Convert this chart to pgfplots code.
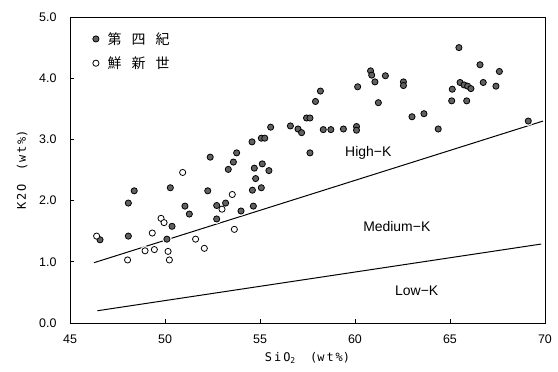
\documentclass[border=0pt]{standalone}
\usepackage{fontspec}
\setmainfont{Liberation Sans}
\newfontfamily\cjk{Noto Sans CJK JP}
\newfontfamily\monof{DejaVu Sans Mono}
\usepackage{pgfplots}
\usepackage{pgfplotstable}
\pgfplotsset{compat=1.18}

\pgfplotstableread{
x y
46.58 1.36
48.07 1.42
48.07 1.96
48.38 2.16
50.28 2.21
50.37 1.58
50.10 1.37
51.05 1.91
51.28 1.78
52.25 2.16
52.38 2.71
52.72 1.92
52.72 1.70
53.19 1.96
53.33 2.51
53.60 2.63
53.77 2.78
54.00 1.83
54.65 1.91
54.60 2.17
55.07 2.21
54.77 2.36
54.70 2.53
55.12 2.60
55.47 2.49
54.58 2.96
55.07 3.02
55.25 3.02
55.56 3.20
56.60 3.22
57.00 3.17
57.19 3.11
57.45 3.35
57.63 3.35
57.63 2.78
57.92 3.62
58.18 3.79
58.33 3.16
58.73 3.16
59.39 3.17
60.08 3.21
60.08 3.15
60.14 3.86
60.82 4.12
60.88 4.05
61.05 3.94
61.60 4.04
61.23 3.60
62.55 3.94
62.55 3.88
63.00 3.37
63.63 3.42
64.38 3.17
65.12 3.82
65.09 3.63
65.88 3.63
65.47 4.50
65.53 3.93
65.74 3.89
65.93 3.87
66.10 3.83
66.58 4.22
66.75 3.93
67.42 3.87
67.60 4.11
69.12 3.30
}\quaternary

\pgfplotstableread{
x y
46.40 1.42
49.33 1.47
49.79 1.71
49.95 1.64
48.95 1.18
49.44 1.20
48.03 1.03
50.16 1.17
50.23 1.03
50.93 2.46
53.54 2.10
53.00 1.86
53.65 1.53
51.61 1.37
52.07 1.22
}\pliocene

\begin{document}
\begin{tikzpicture}
\begin{axis}[
  scale only axis, width=475bp, height=306bp,
  xmin=45, xmax=70, ymin=0, ymax=5,
  xtick={45,50,...,70}, ytick={0,1,...,5},
  tick align=inside, xtick pos=bottom, ytick pos=left,
  major tick length=4bp,
  axis line style={line width=0.9pt},
  tick style={line width=0.8pt, black},
  /pgf/number format/assume math mode=true,
  tick label style={font=\fontsize{12.5}{14}\selectfont},
  yticklabel style={/pgf/number format/fixed, /pgf/number format/fixed zerofill, /pgf/number format/precision=1, xshift=-10bp},
  xticklabel style={yshift=-8bp},
  xlabel={\monof S\,i\,O\textsubscript{2}\ \ (w\,t\,\%)},
  ylabel={\monof K\,2\,O\ \ (w\,t\,\%)},
  label style={font=\fontsize{12}{14}\selectfont},
  xlabel style={at={(axis description cs:0.5,-0.114)}, anchor=center},
  ylabel style={at={(axis description cs:-0.101,0.5)}, anchor=center},
  legend image code/.code={\draw[#1] plot coordinates {(0bp,0bp)}; \path (-4bp,0bp) (10bp,0bp);},
  legend style={draw=none, fill=none, at={(rel axis cs:0.039,0.962)}, anchor=north west,
     font=\cjk\fontsize{14}{15}\selectfont, nodes={inner sep=1.5bp}, row sep=8bp},
  legend cell align=left,
]
\coordinate (bbl) at (rel axis cs:-0.1474,-0.1601);
\coordinate (btr) at (rel axis cs:1.0274,1.0556);

\addplot[black, line width=1pt, forget plot] coordinates {(46.26,0.985) (69.9,3.30)};
\addplot[black, line width=1pt, forget plot] coordinates {(46.44,0.20) (69.8,1.29)};

\addplot[only marks, mark=*, mark size=4.6, mark options={fill=white, draw=white}, forget plot] table[x=x,y=y] {\quaternary};
\addplot[only marks, mark=*, mark size=4.6, mark options={fill=white, draw=white}, forget plot] table[x=x,y=y] {\pliocene};

\addplot[only marks, mark=*, mark size=3.1, mark options={fill=black!62, draw=black, line width=0.8pt}] table[x=x,y=y] {\quaternary};
\addlegendentry{第\hspace{10bp}四\hspace{10bp}紀}
\addplot[only marks, mark=*, mark size=3.1, mark options={fill=white, draw=black, line width=0.8pt}] table[x=x,y=y] {\pliocene};
\addlegendentry{鮮\hspace{10bp}新\hspace{10bp}世}

\node[font=\fontsize{14}{16}\selectfont] at (axis cs:60.7,2.78) {High−K};
\node[font=\fontsize{14}{16}\selectfont] at (axis cs:62.2,1.57) {Medium−K};
\node[font=\fontsize{14}{16}\selectfont] at (axis cs:63.25,0.52) {Low−K};
\end{axis}
\pgfresetboundingbox
\useasboundingbox (bbl) rectangle (btr);
\end{tikzpicture}
\end{document}
